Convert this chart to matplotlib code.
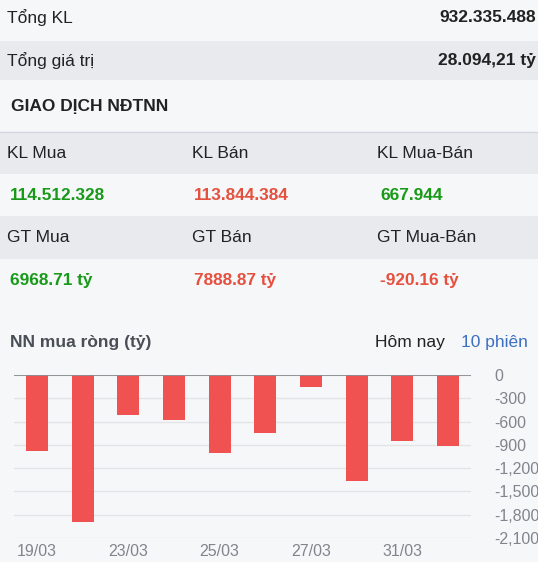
import matplotlib.pyplot as plt
from matplotlib.patches import Rectangle

plt.rcParams['font.family'] = ['Liberation Sans', 'DejaVu Sans']

# summary rows
tong_kl = '932.335.488'
tong_gt = '28.094,21 tỷ'

# foreign trading block
kl_headers = ['KL Mua', 'KL Bán', 'KL Mua-Bán']
kl_values = ['114.512.328', '113.844.384', '667.944']
gt_headers = ['GT Mua', 'GT Bán', 'GT Mua-Bán']
gt_values = ['6968.71 tỷ', '7888.87 tỷ', '-920.16 tỷ']
value_colors = ['#189a18', '#e5503f', None]

# net buy chart (ty dong), 10 sessions
dates = ['19/03', '20/03', '23/03', '24/03', '25/03', '26/03', '27/03', '30/03', '31/03', '01/04']
net_buy = [-980, -1900, -515, -580, -1005, -745, -160, -1370, -850, -920.16]
yticks = [0, -300, -600, -900, -1200, -1500, -1800, -2100]

bg = '#f6f7f9'
band = '#e8eaee'
green = '#189a18'
red = '#e5503f'

fig = plt.figure(figsize=(5.38, 5.62), dpi=100, facecolor=bg)

# background axes in pixel coordinates
bgax = fig.add_axes([0, 0, 1, 1])
bgax.set_xlim(0, 538)
bgax.set_ylim(562, 0)
bgax.axis('off')

for y0, y1 in [(41, 80), (132, 174), (216, 259)]:
    bgax.add_patch(Rectangle((0, y0), 538, y1 - y0, color=band, lw=0))
bgax.plot([0, 538], [132, 132], color='#d3d7dd', lw=1)

txt = '#222222'
bgax.text(7, 18, 'Tổng KL', fontsize=12.5, color=txt, va='center')
bgax.text(536, 18, tong_kl, fontsize=12.5, color=txt, va='center', ha='right', fontweight='bold')
bgax.text(7, 61, 'Tổng giá trị', fontsize=12.5, color=txt, va='center')
bgax.text(536, 61, tong_gt, fontsize=12.5, color=txt, va='center', ha='right', fontweight='bold')
bgax.text(11, 106, 'GIAO DỊCH NĐTNN', fontsize=12.5, color=txt, va='center', fontweight='bold')

cols = [7, 192, 377]
val_cols = [10, 194, 380]
for i in range(3):
    bgax.text(cols[i], 153, kl_headers[i], fontsize=12.5, color=txt, va='center')
    bgax.text(cols[i], 238, gt_headers[i], fontsize=12.5, color=txt, va='center')
    kc = value_colors[i] or green
    bgax.text(val_cols[i], 195, kl_values[i], fontsize=12.4, color=kc, va='center', fontweight='bold')
    gc = value_colors[i] or red
    bgax.text(val_cols[i], 281, gt_values[i], fontsize=12.4, color=gc, va='center', fontweight='bold')

bgax.text(10, 342, 'NN mua ròng (tỷ)', fontsize=12.5, color='#4a4f57', va='center', fontweight='bold')
bgax.text(375, 342, 'Hôm nay', fontsize=12.5, color=txt, va='center')
bgax.text(461, 342, '10 phiên', fontsize=12.5, color='#3c6fc0', va='center')

# bar chart
ax = fig.add_axes([14 / 538, 1 - 538 / 562, 457 / 538, 163 / 562])
ax.set_facecolor('none')
x = list(range(len(dates)))
ax.bar(x, net_buy, width=0.48, color='#f05252', zorder=3)
ax.set_xlim(-0.5, len(dates) - 0.5)
ax.set_ylim(-2100, 0)
ax.set_yticks(yticks)
ax.set_yticklabels(['{:,}'.format(v) for v in yticks])
ax.yaxis.tick_right()
ax.grid(axis='y', color='#e2e4e8', lw=1, zorder=0)
ax.axhline(0, color='#8a8d92', lw=1.3, zorder=4)
ax.set_xticks(x[::2])
ax.set_xticklabels(dates[::2])
for s in ax.spines.values():
    s.set_visible(False)
ax.tick_params(axis='y', length=0, pad=17, labelsize=11.5, labelcolor='#80858c')
ax.tick_params(axis='x', length=0, pad=4, labelsize=11.5, labelcolor='#80858c')
for lab in ax.get_yticklabels():
    lab.set_ha('left')

fig.savefig('out.png', dpi=100, facecolor=bg)
